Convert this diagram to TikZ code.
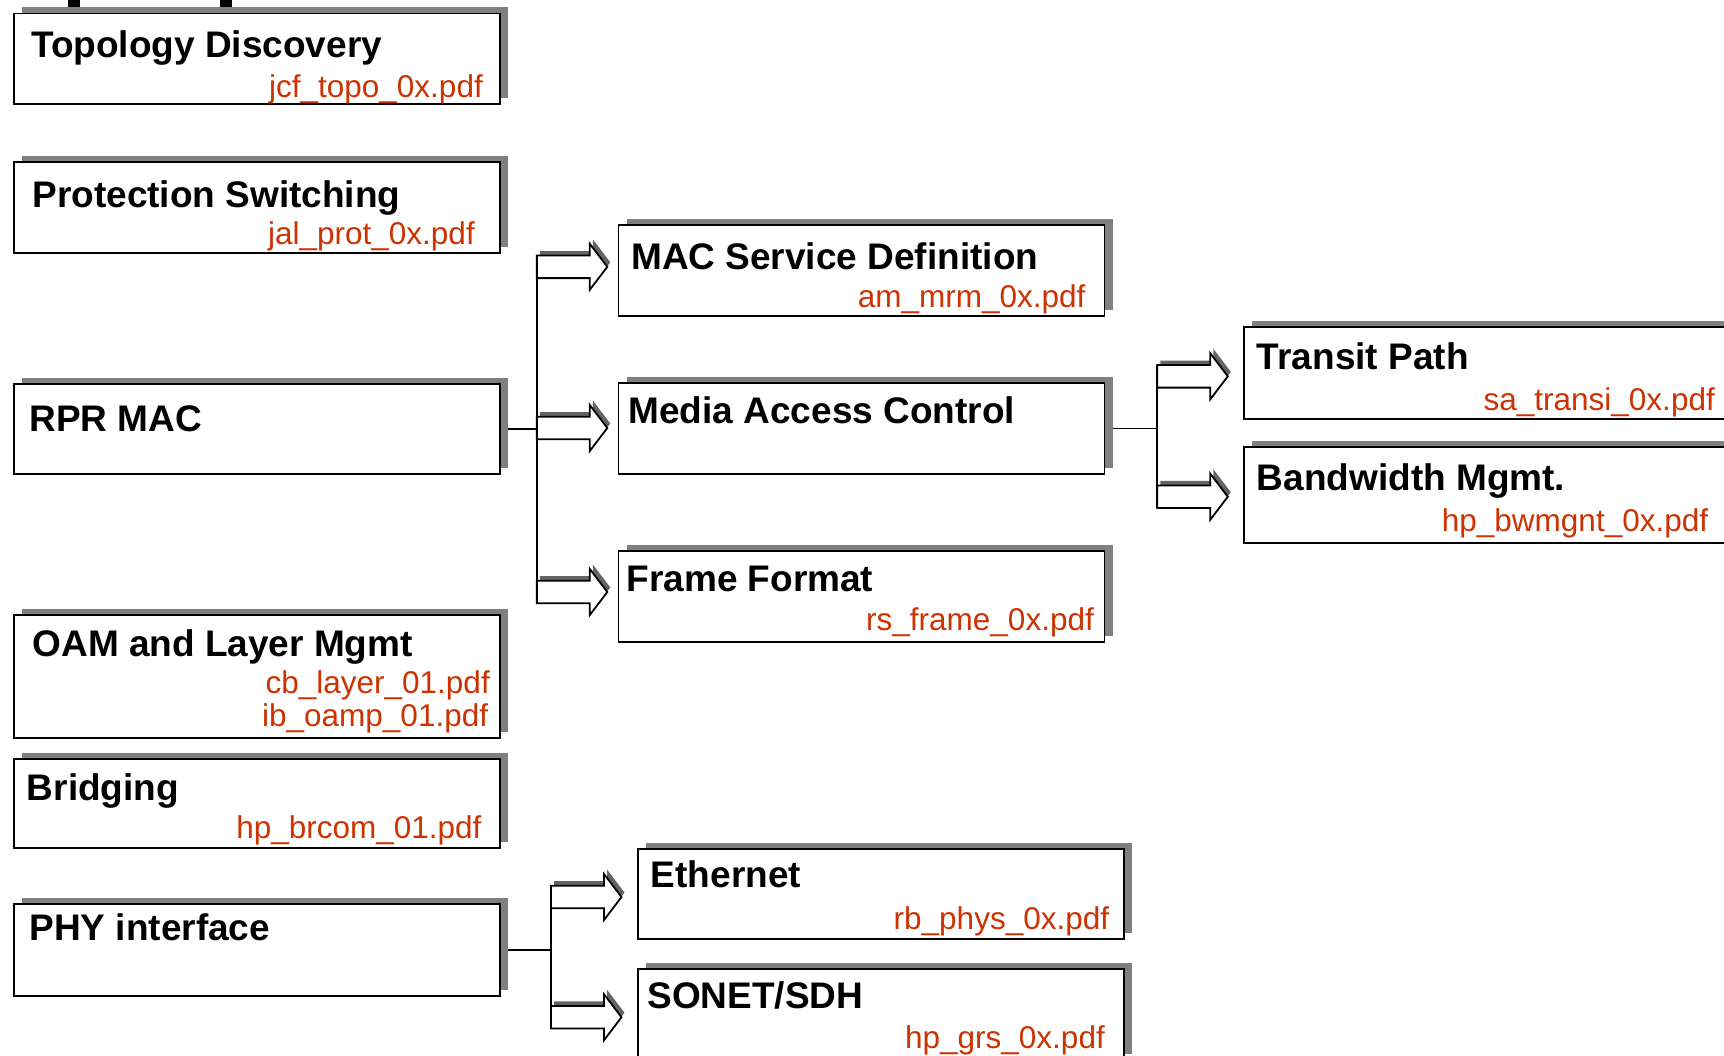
\documentclass[tikz,border=0pt]{standalone}
\usepackage{fontspec}
\setmainfont{Liberation Sans}
\usetikzlibrary{shadows}
\definecolor{boxshadow}{RGB}{128,128,128}
\definecolor{arrshadow}{RGB}{100,100,100}
\definecolor{filered}{RGB}{204,51,0}
\tikzset{
  box/.style={draw=black, line width=1.8pt, fill=white, inner sep=0pt,
    anchor=north west, minimum width=486pt,
    drop shadow={shadow xshift=8pt, shadow yshift=6pt, fill=boxshadow, opacity=1}},
  ttl/.style={anchor=base west, inner sep=0pt, font=\fontsize{37}{40}\selectfont\bfseries},
  fname/.style={anchor=base east, inner sep=0pt, text=filered, font=\fontsize{31.5}{36}\selectfont},
  conn/.style={line width=1.8pt, draw=black},
  barrow/.style={fill=white, draw=black, line width=1.8pt, line join=miter},
}
% block arrow: name, left x, centre y
\newcommand\blockarr[3]{%
  \fill[arrshadow, shift={(#2+3,#3-4.5)}]
    (0,-11.3) -- (53,-11.3) -- (53,-23) -- (70.5,0) -- (53,23) -- (53,11.3) -- (0,11.3) -- cycle;
  \filldraw[barrow, shift={(#2,#3)}]
    (0,-11.3) -- (53,-11.3) -- (53,-23) -- (70.5,0) -- (53,23) -- (53,11.3) -- (0,11.3) -- cycle;
  \coordinate (#1-t) at (#2,#3-11.3);
  \coordinate (#1-b) at (#2,#3+11.3);
  \coordinate (#1-tip) at (#2+70.5,#3);
}
\begin{document}
\begin{tikzpicture}[x=1pt,y=-1pt]
\useasboundingbox (0,0) rectangle (1724,1055);
\clip (0,0) rectangle (1724,1055);
% remnants of cut-off heading
\fill[black] (68,-5) rectangle (80,6.5);
\fill[black] (220,-5) rectangle (232,6.5);

% left column
\node[box, minimum height=90.5pt] (topo) at (13,12.5) {};
\node[ttl] (topo-t) at (31,57) {Topology Discovery};
\node[fname] (topo-f) at (483,97) {jcf\_topo\_0x.pdf};

\node[box, minimum height=90.7pt] (prot) at (13,161) {};
\node[ttl] (prot-t) at (32.3,207.3) {Protection Switching};
\node[fname] (prot-f) at (475,244.3) {jal\_prot\_0x.pdf};

\node[box, minimum height=90pt] (rpr) at (13,383.3) {};
\node[ttl] (rpr-t) at (29.3,431.7) {RPR MAC};

\node[box, minimum height=122.7pt] (oam) at (13,614) {};
\node[ttl] (oam-t) at (32.3,656.7) {OAM and Layer Mgmt};
\node[fname] (oam-f1) at (490,693.3) {cb\_layer\_01.pdf};
\node[fname] (oam-f2) at (488.3,726.7) {ib\_oamp\_01.pdf};

\node[box, minimum height=89.6pt] (brdg) at (13,757.7) {};
\node[ttl] (brdg-t) at (26.7,800) {Bridging};
\node[fname] (brdg-f) at (481.7,838.3) {hp\_brcom\_01.pdf};

\node[box, minimum height=91.7pt] (phy) at (13,903.3) {};
\node[ttl] (phy-t) at (29.3,940.7) {PHY interface};

% middle column
\node[box, minimum height=90.7pt] (macsd) at (617.6,224.3) {};
\node[ttl] (macsd-t) at (631,269.3) {MAC Service Definition};
\node[fname] (macsd-f) at (1085.6,307.7) {am\_mrm\_0x.pdf};

\node[box, minimum height=90.4pt] (mac) at (617.6,382.3) {};
\node[ttl] (mac-t) at (628.3,423.3) {Media Access Control};

\node[box, minimum height=90.7pt] (frame) at (617.6,550) {};
\node[ttl] (frame-t) at (626.4,591) {Frame Format};
\node[fname] (frame-f) at (1094,630.7) {rs\_frame\_0x.pdf};

\node[box, minimum height=90pt] (eth) at (636.7,847.7) {};
\node[ttl] (eth-t) at (650.7,887.3) {Ethernet};
\node[fname] (eth-f) at (1109.3,929.3) {rb\_phys\_0x.pdf};

\node[box, minimum height=91pt] (sonet) at (636.7,967.7) {};
\node[ttl] (sonet-t) at (647.3,1008.3) {SONET/SDH};
\node[fname] (sonet-f) at (1105,1048.3) {hp\_grs\_0x.pdf};

% right column
\node[box, minimum height=91.7pt] (transit) at (1243.3,326) {};
\node[ttl] (transit-t) at (1256.7,369.3) {Transit Path};
\node[fname] (transit-f) at (1715,410.7) {sa\_transi\_0x.pdf};

\node[box, minimum height=96.3pt] (bw) at (1243.3,446) {};
\node[ttl] (bw-t) at (1256.7,490) {Bandwidth Mgmt.};
\node[fname] (bw-f) at (1708.3,531.7) {hp\_bwmgnt\_0x.pdf};

% arrows from RPR MAC
\blockarr{a1}{536.8}{266.8}
\blockarr{a2}{536.8}{428}
\blockarr{a3}{536.8}{592}
\draw[conn] (a1-t) -- (a3-b);
\draw[conn] ([xshift=7pt]rpr.east) -- (rpr.east -| a1-t);

% arrows from Media Access Control
\blockarr{b1}{1157.3}{376.3}
\blockarr{b2}{1157.3}{496.7}
\draw[conn] (b1-t) -- (b2-b);
\draw[conn] ([xshift=7.2pt]mac.east) -- (mac.east -| b1-t);

% arrows from PHY interface
\blockarr{c1}{551}{897}
\blockarr{c2}{551}{1017.2}
\draw[conn] (c1-t) -- (c2-b);
\draw[conn] ([xshift=7pt]phy.east) -- (phy.east -| c1-t);
\end{tikzpicture}
\end{document}
